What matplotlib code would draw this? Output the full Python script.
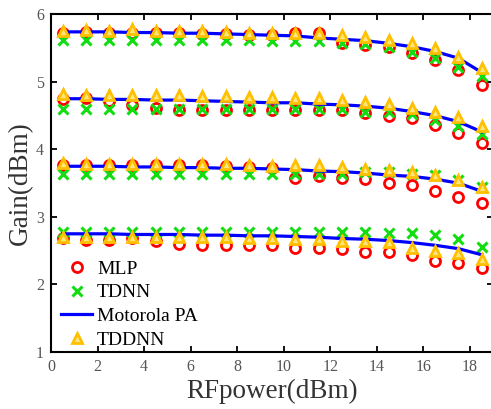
import matplotlib
matplotlib.use("Agg")
import matplotlib.pyplot as plt
import numpy as np

x = [0.5, 1.5, 2.5, 3.5, 4.5, 5.5, 6.5, 7.5, 8.5, 9.5,
     10.5, 11.5, 12.5, 13.5, 14.5, 15.5, 16.5, 17.5, 18.5]

# Motorola PA (measured) curves, four output levels
pa_1 = [5.74, 5.74, 5.74, 5.73, 5.73, 5.72, 5.72, 5.71, 5.70, 5.69,
        5.68, 5.65, 5.63, 5.61, 5.57, 5.52, 5.45, 5.35, 5.14]
pa_2 = [4.75, 4.75, 4.74, 4.74, 4.73, 4.73, 4.72, 4.71, 4.70, 4.69,
        4.69, 4.67, 4.66, 4.64, 4.61, 4.56, 4.50, 4.41, 4.26]
pa_3 = [3.75, 3.75, 3.75, 3.74, 3.74, 3.73, 3.73, 3.72, 3.72, 3.71,
        3.70, 3.68, 3.67, 3.65, 3.62, 3.60, 3.56, 3.50, 3.38]
pa_4 = [2.75, 2.75, 2.75, 2.74, 2.74, 2.74, 2.73, 2.73, 2.72, 2.72,
        2.71, 2.70, 2.68, 2.67, 2.65, 2.62, 2.58, 2.53, 2.44]

mlp_1 = [5.73, 5.74, 5.73, 5.72, 5.72, 5.72, 5.71, 5.71, 5.70, 5.70,
         5.72, 5.72, 5.57, 5.55, 5.52, 5.43, 5.32, 5.18, 4.95]
mlp_2 = [4.74, 4.76, 4.71, 4.66, 4.62, 4.59, 4.59, 4.59, 4.59, 4.59,
         4.59, 4.59, 4.59, 4.54, 4.50, 4.46, 4.36, 4.24, 4.10]
mlp_3 = [3.77, 3.77, 3.77, 3.77, 3.77, 3.77, 3.77, 3.76, 3.74, 3.72,
         3.57, 3.60, 3.57, 3.56, 3.50, 3.47, 3.39, 3.29, 3.20]
mlp_4 = [2.69, 2.66, 2.66, 2.69, 2.64, 2.60, 2.59, 2.59, 2.59, 2.59,
         2.54, 2.54, 2.52, 2.48, 2.48, 2.44, 2.34, 2.32, 2.24]

tdnn_1 = [5.62, 5.62, 5.62, 5.62, 5.62, 5.62, 5.62, 5.62, 5.62, 5.61,
          5.61, 5.61, 5.57, 5.56, 5.52, 5.44, 5.36, 5.22, 5.08]
tdnn_2 = [4.60, 4.60, 4.60, 4.60, 4.60, 4.60, 4.60, 4.60, 4.60, 4.60,
          4.60, 4.60, 4.60, 4.56, 4.55, 4.52, 4.44, 4.34, 4.23]
tdnn_3 = [3.64, 3.64, 3.64, 3.64, 3.64, 3.64, 3.64, 3.64, 3.64, 3.64,
          3.64, 3.64, 3.64, 3.67, 3.66, 3.64, 3.62, 3.55, 3.45]
tdnn_4 = [2.78, 2.78, 2.78, 2.78, 2.78, 2.78, 2.78, 2.78, 2.78, 2.78,
          2.78, 2.78, 2.78, 2.78, 2.76, 2.76, 2.73, 2.67, 2.55]

tddnn_1 = [5.76, 5.77, 5.76, 5.78, 5.76, 5.76, 5.75, 5.74, 5.73, 5.73,
           5.73, 5.73, 5.69, 5.66, 5.62, 5.57, 5.50, 5.37, 5.20]
tddnn_2 = [4.82, 4.81, 4.81, 4.80, 4.80, 4.80, 4.79, 4.79, 4.78, 4.77,
           4.76, 4.76, 4.73, 4.70, 4.67, 4.62, 4.56, 4.48, 4.34]
tddnn_3 = [3.80, 3.79, 3.79, 3.79, 3.79, 3.79, 3.79, 3.78, 3.77, 3.76,
           3.77, 3.77, 3.74, 3.71, 3.69, 3.66, 3.62, 3.55, 3.45]
tddnn_4 = [2.71, 2.71, 2.71, 2.71, 2.71, 2.70, 2.70, 2.70, 2.69, 2.69,
           2.68, 2.68, 2.65, 2.65, 2.63, 2.54, 2.49, 2.47, 2.38]

xticks = [0, 2, 4, 6, 8, 10, 12, 14, 16, 18]
yticks = [1, 2, 3, 4, 5, 6]

plt.rcParams['font.family'] = ['Liberation Serif', 'DejaVu Serif']

fig = plt.figure(figsize=(4.91, 4.09), dpi=100)
ax = fig.add_axes([51/491, 1-352/409, (19*23.28)/491, (352-14.3)/409])

RED = '#FF0000'
GREEN = '#11DD11'
BLUE = '#0000FF'
GOLD = '#FFC000'

mlps = [mlp_1, mlp_2, mlp_3, mlp_4]
tdnns = [tdnn_1, tdnn_2, tdnn_3, tdnn_4]
pas = [pa_1, pa_2, pa_3, pa_4]
tddnns = [tddnn_1, tddnn_2, tddnn_3, tddnn_4]

for i in range(4):
    ax.plot(x, mlps[i], linestyle='none', marker='o', ms=7.2, mfc='none',
            mec=RED, mew=2.0, label='MLP' if i == 0 else None, zorder=2)
    ax.plot(x, tdnns[i], linestyle='none', marker='x', ms=7.5,
            mec=GREEN, mew=2.2, label='TDNN' if i == 0 else None, zorder=2)
    ax.plot(x, pas[i], color=BLUE, lw=2.3,
            label='Motorola PA' if i == 0 else None, zorder=3)
    ax.plot(x, tddnns[i], linestyle='none', marker='^', ms=7, mfc='#FFE680',
            mec=GOLD, mew=2.0, label='TDDNN' if i == 0 else None, zorder=4)

ax.set_xlim(0, 19)
ax.set_ylim(1, 6)
ax.set_xticks(xticks)
ax.set_yticks(yticks)
ax.tick_params(direction='in', top=True, right=True, length=4, width=1.3,
               labelsize=11.5, labelcolor='#555555', pad=5)
for s in ax.spines.values():
    s.set_linewidth(1.5)

ax.set_xlabel('RFpower(dBm)', fontsize=19.5, color='#333333', labelpad=3)
ax.set_ylabel('Gain(dBm)', fontsize=19.5, color='#333333', labelpad=2)

leg = ax.legend(loc='lower left', bbox_to_anchor=(0.016, 0.0), frameon=False,
                fontsize=14, labelspacing=0.32, handlelength=1.6,
                handletextpad=0.25, borderaxespad=-0.25)

fig.savefig('out.png', dpi=100)
